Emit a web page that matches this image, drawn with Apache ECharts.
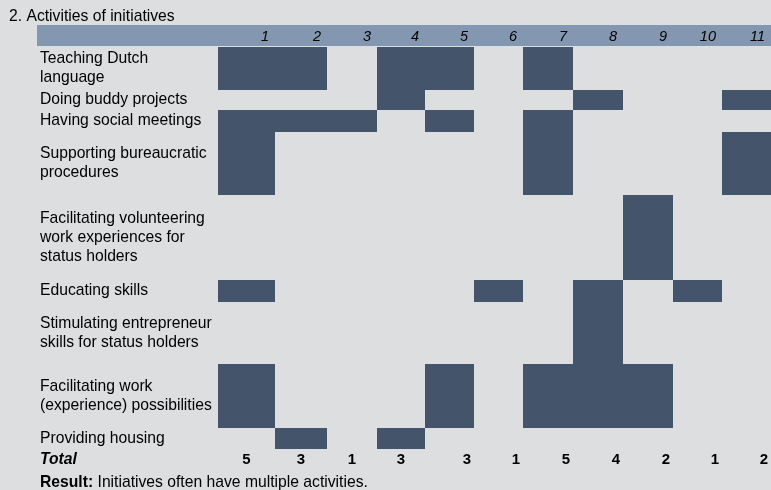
<!DOCTYPE html>
<html>
<head>
<meta charset="utf-8">
<title>Activities of initiatives</title>
<script src="https://cdn.jsdelivr.net/npm/echarts@6/dist/echarts.min.js"></script>
<style>
  html, body { margin: 0; padding: 0; background: #dddee0; }
  #chart { width: 771px; height: 490px; }
</style>
</head>
<body>
<div id="chart"></div>
<script>
// initiatives (columns) and activities (rows)
const columns = ['1', '2', '3', '4', '5', '6', '7', '8', '9', '10', '11'];
const activities = [
  'Teaching Dutch\nlanguage',
  'Doing buddy projects',
  'Having social meetings',
  'Supporting bureaucratic\nprocedures',
  'Facilitating volunteering\nwork experiences for\nstatus holders',
  'Educating skills',
  'Stimulating entrepreneur\nskills for status holders',
  'Facilitating work\n(experience) possibilities',
  'Providing housing'
];
// which initiatives do each activity
const marks = [
  [1, 2, 4, 5, 7],
  [4, 8, 11],
  [1, 2, 3, 5, 7],
  [1, 7, 11],
  [9],
  [1, 6, 8, 10],
  [8],
  [1, 5, 7, 8, 9],
  [2, 4]
];
const totals = [5, 3, 1, 3, 3, 1, 5, 4, 2, 1, 2];

// table layout (column edges and row heights in table units)
const colEdges = [0, 57, 109, 159, 207, 256, 305, 355, 405, 455, 504, 553];
const rowHeights = [43, 20, 22, 63, 85, 22, 62, 64, 21];
const rowTops = [];
rowHeights.reduce((acc, h) => { rowTops.push(acc); return acc + h; }, 0);
const tableHeight = rowHeights.reduce((a, b) => a + b, 0);

const FONT = '"Liberation Sans", Arial, sans-serif';
const DARK = '#44546a';

const cellData = [];
marks.forEach((cols, r) => cols.forEach(c => cellData.push([c, r])));

const chart = echarts.init(document.getElementById('chart'));

const option = {
  backgroundColor: '#dddee0',
  animation: false,
  title: [
    {
      text: '2. Activities of initiatives',
      left: 9, top: 9, padding: 0,
      textStyle: { fontFamily: FONT, fontSize: 15.7, fontWeight: 'normal', color: '#000' }
    },
    {
      text: '{b|Result:} Initiatives often have multiple activities.',
      left: 40, top: 475, padding: 0,
      textStyle: {
        fontFamily: FONT, fontSize: 15.7, fontWeight: 'normal', color: '#000',
        rich: { b: { fontFamily: FONT, fontSize: 15.7, fontWeight: 'bold', color: '#000' } }
      }
    }
  ],
  graphic: [
    {
      type: 'rect', z: 0,
      shape: { x: 37, y: 25, width: 734, height: 21 },
      style: { fill: '#8497b0' }
    },
    {
      type: 'text', left: 40, top: 452, z: 5,
      style: {
        text: 'Total', fill: '#000',
        font: 'italic bold 15.7px ' + FONT
      }
    }
  ],
  grid: { left: 218, right: 0, top: 47, bottom: 41 },
  xAxis: { type: 'value', min: 0, max: colEdges[colEdges.length - 1], show: false },
  yAxis: { type: 'value', min: 0, max: tableHeight, inverse: true, show: false },
  series: [
    {
      name: 'cells',
      type: 'custom',
      data: cellData,
      renderItem(params, api) {
        const c = api.value(0), r = api.value(1);
        const p0 = api.coord([colEdges[c - 1], rowTops[r]]);
        const p1 = api.coord([colEdges[c], rowTops[r] + rowHeights[r]]);
        return {
          type: 'rect',
          shape: { x: p0[0], y: p0[1], width: p1[0] - p0[0], height: p1[1] - p0[1] },
          style: { fill: DARK }
        };
      }
    },
    {
      name: 'activities',
      type: 'custom',
      z: 10,
      data: activities.map((a, i) => [0, i]),
      renderItem(params, api) {
        const r = api.value(1);
        const p = api.coord([0, rowTops[r] + rowHeights[r] / 2]);
        return {
          type: 'text',
          x: p[0] - 178, y: p[1],
          style: {
            text: activities[r], fill: '#000',
            fontFamily: FONT, fontSize: 15.7, lineHeight: 19,
            align: 'left', verticalAlign: 'middle'
          }
        };
      }
    },
    {
      name: 'header',
      type: 'custom',
      z: 10,
      data: columns.map((c, i) => [i + 1, 0]),
      renderItem(params, api) {
        const c = api.value(0);
        const p = api.coord([colEdges[c], 0]);
        return {
          type: 'text',
          x: p[0] - 6, y: p[1] - 10.5,
          style: {
            text: columns[c - 1], fill: '#000',
            fontFamily: FONT, fontSize: 14.5, fontStyle: 'italic',
            align: 'right', verticalAlign: 'middle'
          }
        };
      }
    },
    {
      name: 'totals',
      type: 'custom',
      z: 10,
      data: totals.map((t, i) => [i + 1, tableHeight]),
      renderItem(params, api) {
        const c = api.value(0);
        const right = c > 4;
        const xv = right ? colEdges[c] : (colEdges[c - 1] + colEdges[c]) / 2;
        const p = api.coord([xv, tableHeight]);
        return {
          type: 'text',
          x: right ? p[0] - 3 : p[0], y: p[1] + 11,
          style: {
            text: String(totals[c - 1]), fill: '#000',
            fontFamily: FONT, fontSize: 15, fontWeight: 'bold',
            align: right ? 'right' : 'center', verticalAlign: 'middle'
          }
        };
      }
    }
  ]
};

chart.setOption(option);
window.addEventListener('resize', () => chart.resize());
</script>
</body>
</html>
